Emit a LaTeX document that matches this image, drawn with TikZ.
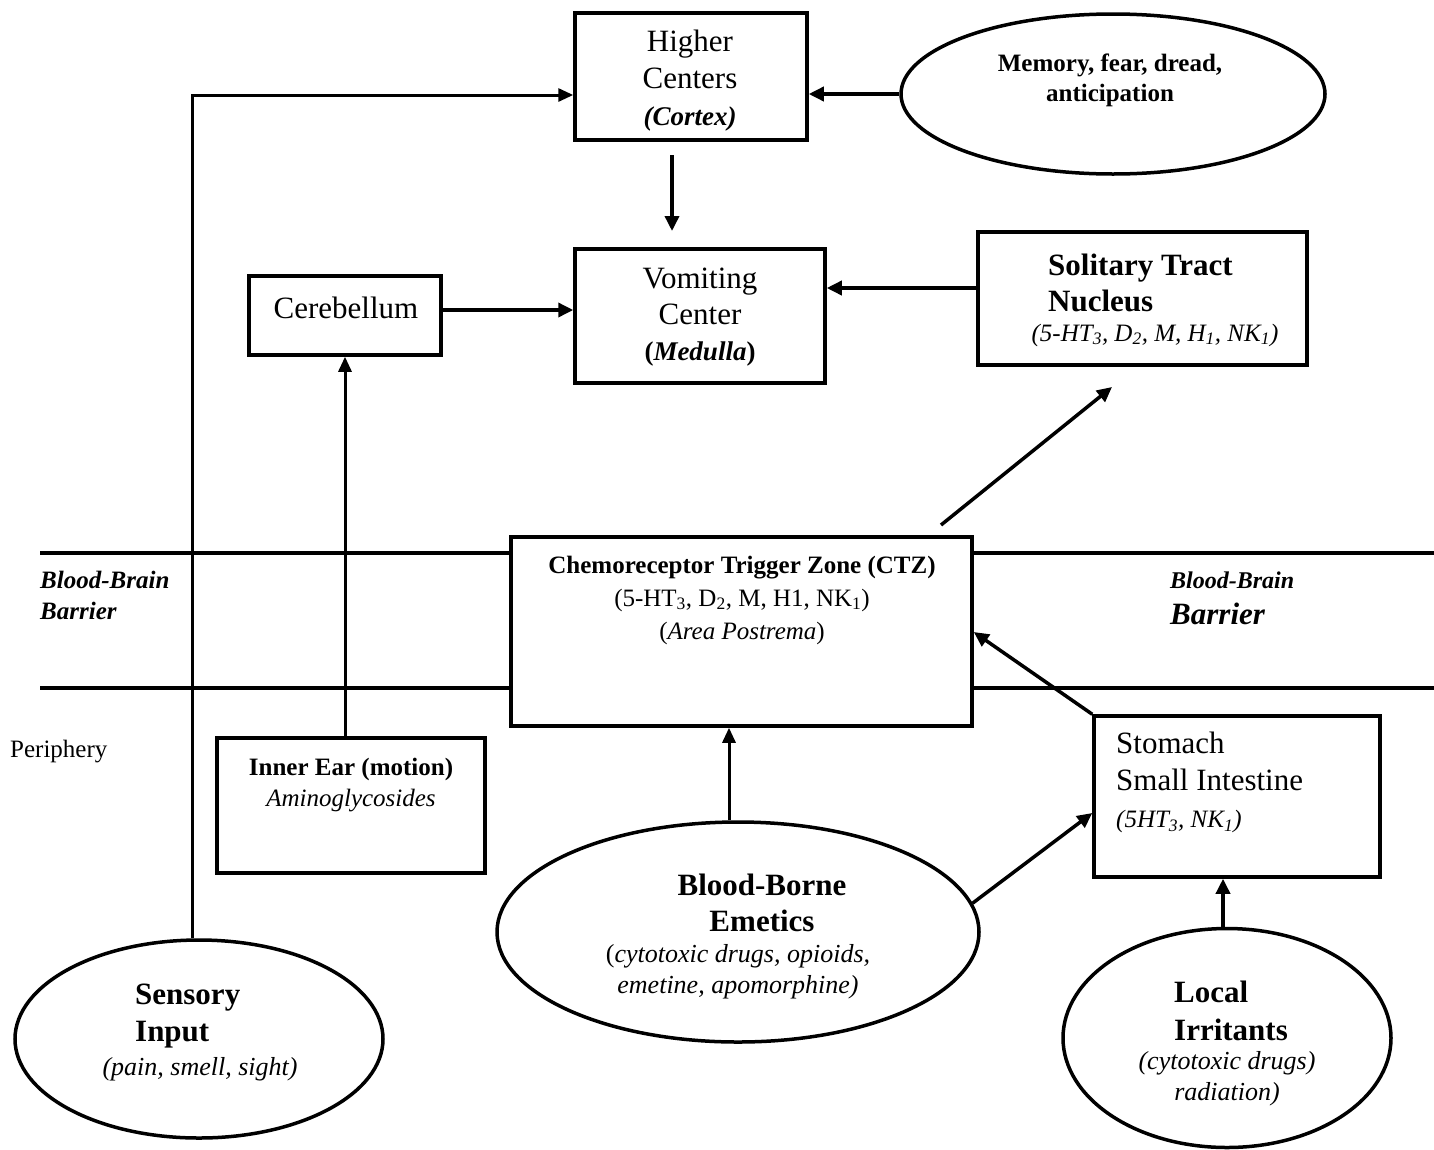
\documentclass[tikz,border=0pt]{standalone}
\usepackage{fontspec}
\setmainfont{Liberation Serif}
\usetikzlibrary{arrows.meta,shapes.geometric,calc}
\newcommand{\fsz}[2]{\fontsize{#1}{#2}\selectfont}
\begin{document}
\begin{tikzpicture}[x=1pt,y=-1pt,
  box/.style={draw,line width=3.5pt,fill=white,rectangle,inner sep=0pt},
  oval/.style={draw,line width=3.5pt,ellipse,inner sep=0pt},
  arr/.style={line width=3.5pt,-{Triangle[length=15pt,width=14pt]}},
  thinarr/.style={line width=3pt,-{Triangle[length=15pt,width=13pt]}},
  txt/.style={inner sep=0pt,align=center},
  ltxt/.style={inner sep=0pt,align=left,anchor=west},
  barrier/.style={line width=3.5pt}]
\useasboundingbox (0,0) rectangle (1434,1149);

% helper coordinates
\coordinate (y288) at (0,288);
\coordinate (y310) at (0,310);
\coordinate (y632) at (0,632);
\coordinate (y813) at (0,813);
\coordinate (x729) at (729,0);
\coordinate (x1223) at (1223,0);
\coordinate (bbbL1) at (40,553);
\coordinate (bbbR1) at (1434,553);
\coordinate (bbbL2) at (40,688);
\coordinate (bbbR2) at (1434,688);
\coordinate (hcout) at (672,155);
\coordinate (vcin) at (672,231);
\coordinate (ctzout) at (941,525);
\coordinate (stnin) at (1112,387);
\coordinate (corner) at (192,95);

% blood-brain barrier lines
\draw[barrier] (bbbL1) -- (bbbR1);
\draw[barrier] (bbbL2) -- (bbbR2);

% boxes
\node[box,minimum width=232pt,minimum height=127pt] (hc) at (691,76.5) {};
\node[txt,font=\fsz{31}{37}] (hct) at (690,81) {Higher\\Centers\\{\fsz{27}{33}\bfseries\itshape (Cortex)}};

\node[oval,minimum width=424pt,minimum height=160pt] (mem) at (1113,94) {};
\node[txt,font=\fsz{25}{30}\bfseries] (memt) at (1110,80) {Memory, fear, dread,\\anticipation};

\node[box,minimum width=250pt,minimum height=134pt] (vc) at (700,316) {};
\node[txt,font=\fsz{31}{36}] (vct) at (700,317) {Vomiting\\Center\\{\fsz{27}{34}\bfseries(\textit{Medulla})}};

\node[box,minimum width=192pt,minimum height=79pt] (cb) at (345,315.5) {};
\node[txt,font=\fsz{31}{37}] (cbt) at (346,308) {Cerebellum};

\node[box,minimum width=329pt,minimum height=133pt] (stn) at (1142.5,298.5) {};
\node[ltxt,font=\fsz{31}{36}\bfseries] (stnt) at (1048,283) {Solitary Tract\\Nucleus};
\node[txt,font=\fsz{25}{30}\itshape] (stnr) at (1155,335) {(5-HT\textsubscript{3}, D\textsubscript{2}, M, H\textsubscript{1}, NK\textsubscript{1})};

\node[box,minimum width=461pt,minimum height=189pt] (ctz) at (741.5,631.5) {};
\node[txt,font=\fsz{25}{33}] (ctzt) at (742,600) {\textbf{Chemoreceptor Trigger Zone (CTZ)}\\(5-HT\textsubscript{3}, D\textsubscript{2}, M, H1, NK\textsubscript{1})\\(\textit{Area Postrema})};

\node[box,minimum width=268pt,minimum height=135pt] (ie) at (351,805.5) {};
\node[txt,font=\fsz{25}{31}] (iet) at (351,785) {\textbf{Inner Ear (motion)}\\\textit{Aminoglycosides}};

\node[box,minimum width=286pt,minimum height=161pt] (st) at (1237,796.5) {};
\node[ltxt,font=\fsz{31}{37}] (stt) at (1116,782.5) {Stomach\\Small Intestine\\{\fsz{25}{33}\itshape (5HT\textsubscript{3}, NK\textsubscript{1})}};

% ellipses
\node[oval,minimum width=482pt,minimum height=220pt] (be) at (738,932) {};
\node[txt,font=\fsz{31}{36}\bfseries] (bet) at (762,903) {Blood-Borne\\Emetics};
\node[txt,font=\fsz{26}{31}] (ber) at (738,972) {(\textit{cytotoxic drugs, opioids,}\\\textit{emetine, apomorphine)}};

\node[oval,minimum width=328pt,minimum height=219pt] (li) at (1227,1038) {};
\node[ltxt,font=\fsz{31}{38}\bfseries] (lit) at (1174,1011) {Local\\Irritants};
\node[txt,font=\fsz{26}{31}\itshape] (lir) at (1227,1078.5) {(cytotoxic drugs)\\radiation)};

\node[oval,minimum width=368pt,minimum height=198pt] (si) at (199,1039) {};
\node[ltxt,font=\fsz{31}{37}\bfseries] (sit) at (135,1016.5) {Sensory\\Input};
\node[txt,font=\fsz{26}{31}\itshape] (sir) at (200,1069) {(pain, smell, sight)};

% free labels
\node[ltxt,font=\fsz{25}{31}\bfseries\itshape] (bbbl) at (40,595.5) {Blood-Brain\\Barrier};
\node[ltxt,font=\fsz{24}{30}\bfseries\itshape] (bbbr1) at (1170,580) {Blood-Brain};
\node[ltxt,font=\fsz{31}{36}\bfseries\itshape] (bbbr2) at (1170,614) {Barrier};
\node[ltxt,font=\fsz{25}{30}] (per) at (10,752) {Periphery};

% connectors
\draw[arr] (mem.west) -- (mem.west -| hc.east);
\draw[thinarr] (si.north -| corner) -- (corner) -- (corner -| hc.west);
\draw[arr] (hcout) -- (vcin);
\draw[arr] (cb.east |- y310) -- (vc.west |- y310);
\draw[arr] (stn.west |- y288) -- (vc.east |- y288);
\draw[arr] (ctzout) -- (stnin);
\draw[thinarr] (cb.south |- ie.north) -- (cb.south);
\draw[arr] (st.north west) -- (ctz.east |- y632);
\draw[thinarr] (be.north -| x729) -- (ctz.south -| x729);
\draw[arr] (be.7) -- (st.west |- y813);
\draw[arr] (li.north -| x1223) -- (st.south -| x1223);
\end{tikzpicture}
\end{document}
